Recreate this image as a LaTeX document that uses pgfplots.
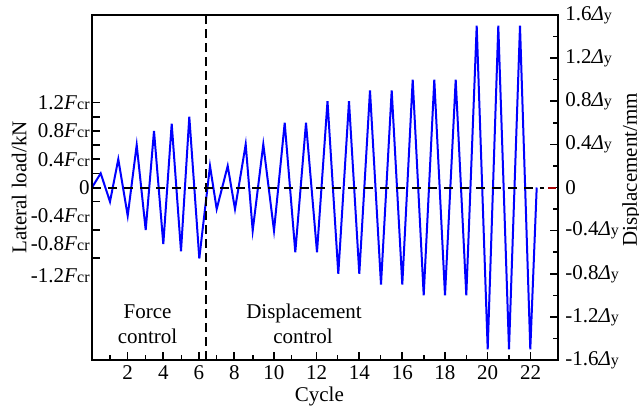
\documentclass[border=0pt]{standalone}
\usepackage{fontspec}
\setmainfont{Liberation Serif}
\usepackage{pgfplots}
\pgfplotsset{compat=1.18}
\newcommand{\F}[1]{#1\textit{F}{\fontsize{8}{9}\selectfont cr}}
\newcommand{\D}[1]{#1\textit{Δ}{\fontsize{8}{9}\selectfont y}}
\begin{document}
\fontsize{10.5}{12.6}\selectfont
\begin{tikzpicture}
\pgfplotsset{
  common/.style={scale only axis, width=233pt, height=172.5pt, xmin=0, xmax=466,
    at={(0,0)}, anchor=south west, axis line style={line width=1pt},
    major tick length=4pt, minor tick length=2.5pt,
    every tick/.style={black, line width=0.8pt}, tick align=inside, clip=false}
}
% Force control phase (left axis, units of F_cr)
\begin{axis}[common, ymin=-2.437, ymax=2.437,
  xtick pos=left, ytick pos=left,
  xtick={35.7,71.3,107,142.3,182,224.7,267.3,310.3,353,395.7,438.7},
  xticklabels={2,4,6,8,10,12,14,16,18,20,22},
  minor xtick={18,53.7,89.7,124.7,161.3,199.7,245.7,288.7,332,374.7,417.3},
  ytick={-1,-0.6,-0.2,0,0.2,0.4,0.6,0.8,1,1.2},
  yticklabels={,,,0,,\F{0.4},,\F{0.8},,\F{1.2}},
  extra y ticks={-0.4,-0.8,-1.24},
  extra y tick labels={\F{-0.4},\F{-0.8},\F{-1.2}},
  extra y tick style={major tick length=0pt},
  yticklabel style={inner sep=1pt},
  xticklabel style={inner sep=2.5pt},
  xlabel={Cycle},
  every axis x label/.style={at={(axis description cs:0.488,-0.1217)}, anchor=base, inner sep=0pt},
  ylabel={Lateral load/kN},
  every axis y label/.style={at={(axis description cs:-0.1395,0.5)}, rotate=90, anchor=south, inner sep=0pt},
]
\addplot[blue, line width=1pt] table {
x y
0 0
8.7 0.2
18 -0.2
26.3 0.4
35.7 -0.4
44.7 0.6
53.7 -0.6
62 0.8
71.3 -0.8
79.7 0.9
89 -0.9
97.3 1.0
107.3 -1.0
};
\end{axis}
% Displacement control phase (right axis, units of Delta_y)
\begin{axis}[common, ymin=-1.6, ymax=1.6, hide x axis,
  ytick pos=right, yticklabel pos=right,
  ytick={-1.6,-1.2,-0.8,-0.4,0,0.4,0.8,1.2,1.6},
  yticklabels={\D{-1.6},\D{-1.2},\D{-0.8},\D{-0.4},0,\D{0.4},\D{0.8},\D{1.2},\D{1.6}},
  minor ytick={-1.4,-1,-0.6,-0.2,0.2,0.6,1,1.4},
  ylabel={Displacement/mm},
  every axis y label/.style={at={(axis description cs:1.1373,0.551)}, rotate=90, anchor=north, inner sep=0pt},
]
\addplot[blue, line width=1pt] table {
x y
107.3 -0.657
118 0.2
124.7 -0.2
135.7 0.2
143 -0.2
153.7 0.4
160.7 -0.4
171.3 0.4
182 -0.4
192.7 0.6
203.3 -0.6
214 0.6
225 -0.6
235.5 0.8
246.3 -0.8
257 0.8
267.3 -0.8
278 0.9
289 -0.9
299.7 0.9
310.3 -0.9
320.7 1.0
331.7 -1.0
342.3 1.0
353 -1.0
363.7 1.0
374.3 -1.0
384.7 1.5
395.7 -1.5
406.3 1.5
417 -1.5
428 1.5
438.3 -1.5
444.7 0
};
\draw[black, line width=1pt, dash pattern=on 4.5pt off 3.5pt] (axis cs:0,0) -- (axis cs:452,0);
\draw[red!65!black, line width=1pt] (axis cs:456,0) -- (axis cs:464,0);
\draw[black, line width=1pt, dash pattern=on 4.5pt off 2.5pt] (axis cs:114,-1.6) -- (axis cs:114,1.6);
\node[anchor=base, inner sep=0pt] at (axis cs:55.5,-1.2125) {Force};
\node[anchor=base, inner sep=0pt] at (axis cs:55.5,-1.444) {control};
\node[anchor=base, inner sep=0pt] at (axis cs:212,-1.2125) {Displacement};
\node[anchor=base, inner sep=0pt] at (axis cs:211,-1.444) {control};
\end{axis}
\pgfresetboundingbox
\path[use as bounding box] (-46pt,-24pt) rectangle (273.5pt,180pt);
\end{tikzpicture}
\end{document}
